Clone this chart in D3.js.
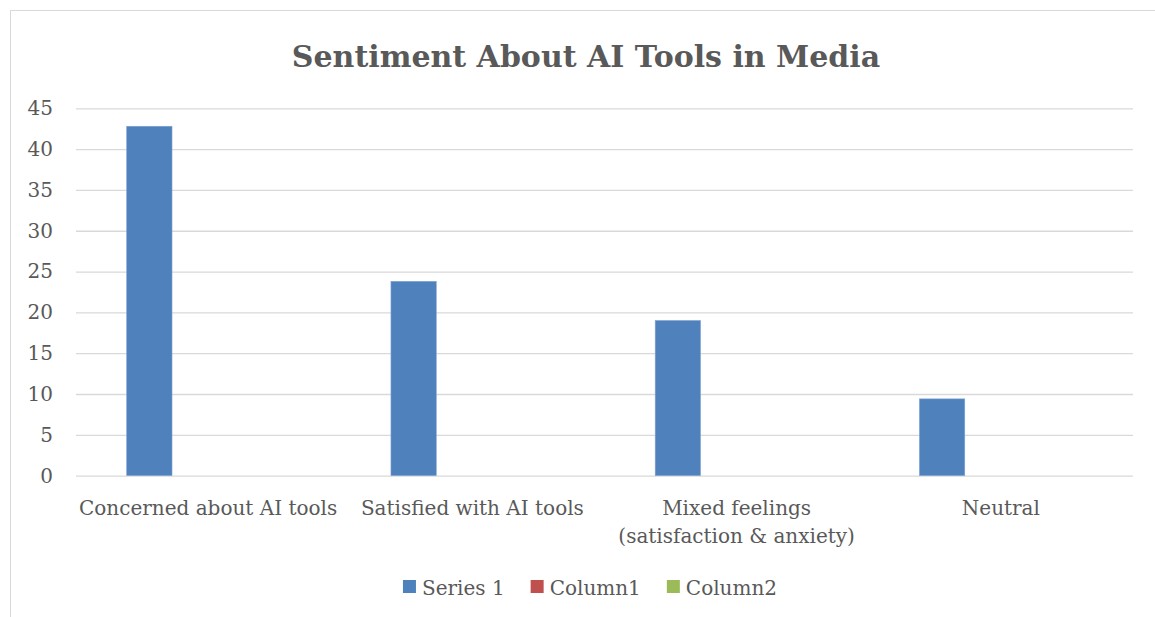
<!DOCTYPE html>
<html>
<head>
<meta charset="utf-8">
<script src="https://cdn.jsdelivr.net/npm/d3@7"></script>
<style>
  body { margin: 0; background: #fff; }
  text { font-family: "DejaVu Serif", serif; fill: #595959; }
</style>
</head>
<body>
<div id="chart"></div>
<script>
const categories = ['Concerned about AI tools', 'Satisfied with AI tools',
                    'Mixed feelings\n(satisfaction & anxiety)', 'Neutral'];
const seriesNames = ['Series 1', 'Column1', 'Column2'];
const seriesColors = ['#4F81BD', '#C0504D', '#9BBB59'];
const series1 = [42.8, 23.8, 19.0, 9.4];
const column1 = [null, null, null, null];
const column2 = [null, null, null, null];
const yTicks = [0, 5, 10, 15, 20, 25, 30, 35, 40, 45];

const W = 1155, H = 617;
const margin = {top: 108.3, left: 76, right: 22, bottom: 141.4};
const width = W - margin.left - margin.right,
      height = H - margin.top - margin.bottom;

const svg = d3.select('#chart')
    .append('svg')
        .attr('width', W)
        .attr('height', H);

// chart border (runs off the page on the right and bottom)
svg.append('rect')
    .attr('x', 10.5).attr('y', 10.5)
    .attr('width', W + 20).attr('height', H + 20)
    .attr('fill', 'none')
    .attr('stroke', '#D9D9D9');

svg.append('text')
    .attr('x', 586).attr('y', 67)
    .attr('text-anchor', 'middle')
    .style('font-size', '30px')
    .style('font-weight', 'bold')
    .text('Sentiment About AI Tools in Media');

const g = svg.append('g')
    .attr('transform', 'translate(' + margin.left + ',' + margin.top + ')');

const x0 = d3.scaleBand()
    .domain(categories)
    .range([0, width])
    .padding(0);

const x1 = d3.scaleBand()
    .domain(seriesNames)
    .range([50.7, x0.bandwidth() - 50.7])
    .paddingInner(0.229);

const y = d3.scaleLinear()
    .domain([0, 45])
    .range([height, 0]);

const yAxis = d3.axisLeft(y)
    .tickValues(yTicks)
    .tickSize(-width)
    .tickPadding(23);

g.append('g')
    .attr('class', 'y-axis')
    .call(yAxis)
    .call(s => s.select('.domain').remove())
    .call(s => s.selectAll('line').attr('stroke', '#D9D9D9').attr('stroke-width', 1.3))
    .call(s => s.selectAll('text').style('font-size', '20px').style('font-family', '"DejaVu Serif", serif').attr('fill', '#595959'));

// x labels
const xl = g.append('g').attr('class', 'x-axis')
    .selectAll('text')
    .data(categories)
    .enter()
    .append('text')
        .attr('x', d => x0(d) + x0.bandwidth() / 2)
        .attr('y', height + 39.5)
        .attr('text-anchor', 'middle')
        .style('font-size', '20px');

xl.selectAll('tspan')
    .data(d => d.split('\n'))
    .enter()
    .append('tspan')
        .attr('x', function() { return d3.select(this.parentNode).attr('x'); })
        .attr('dy', (d, i) => i === 0 ? 0 : 28)
        .text(d => d);

const allSeries = [series1, column1, column2];
const barData = [];
categories.forEach((c, i) => {
    allSeries.forEach((s, j) => {
        if (s[i] != null) barData.push({cat: c, name: seriesNames[j], color: seriesColors[j], value: s[i]});
    });
});

g.append('g')
    .selectAll('rect')
    .data(barData)
    .enter()
    .append('rect')
        .attr('x', d => x0(d.cat) + x1(d.name))
        .attr('y', d => y(d.value))
        .attr('width', x1.bandwidth())
        .attr('height', d => height - y(d.value))
        .attr('fill', d => d.color)
        .attr('stroke', '#7FA3D2')
        .attr('stroke-width', 0.6);

// legend
const legend = svg.append('g');
let lx = 0;
seriesNames.forEach((name, i) => {
    const item = legend.append('g').attr('transform', 'translate(' + lx + ',0)');
    item.append('rect')
        .attr('x', 0).attr('y', 580)
        .attr('width', 13).attr('height', 13)
        .attr('fill', seriesColors[i]);
    const t = item.append('text')
        .attr('x', 19).attr('y', 594.5)
        .style('font-size', '20px')
        .text(name);
    lx += 19 + t.node().getComputedTextLength() + 26;
});
const legendW = lx - 26;
legend.attr('transform', 'translate(' + (590 - legendW / 2) + ',0)');
</script>
</body>
</html>
